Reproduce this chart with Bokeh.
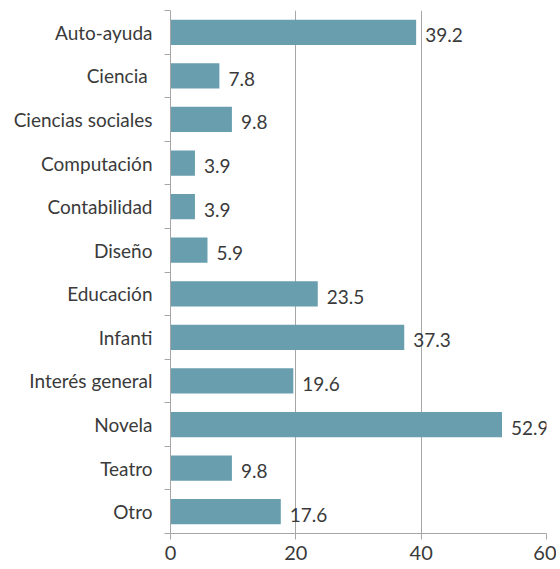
from bokeh.plotting import figure
from bokeh.models import ColumnDataSource, FixedTicker, Range1d
from bokeh.embed import file_html
from bokeh.resources import INLINE
from bokeh.core.properties import value

categories = ["Auto-ayuda", "Ciencia ", "Ciencias sociales", "Computación", "Contabilidad",
              "Diseño", "Educación", "Infanti", "Interés general", "Novela", "Teatro", "Otro"]
values = [39.2, 7.8, 9.8, 3.9, 3.9, 5.9, 23.5, 37.3, 19.6, 52.9, 9.8, 17.6]
x_ticks = [0, 20, 40, 60]

n = len(categories)
ypos = [n - 1 - i for i in range(n)]
labels = [f"{v:.1f}" for v in values]

src = ColumnDataSource(dict(y=ypos, v=values, lab=labels, cat=categories))

FONT = "Lato"
TXT = "#3a3a3a"

p = figure(width=556, height=563, output_backend="svg", toolbar_location=None,
           x_range=Range1d(0, 60), y_range=Range1d(-0.5, n - 0.5),
           min_border_left=170, min_border_right=10, min_border_top=10, min_border_bottom=30)
p.outline_line_color = None
p.background_fill_color = "white"
p.border_fill_color = "white"

p.hbar(y="y", right="v", left=0, height=0.58, source=src,
       fill_color="#689EAE", line_color=None)
p.text(x="v", y="y", text="lab", source=src, x_offset=9, y_offset=3,
       text_font=value(FONT), text_font_size="19px", text_color=TXT,
       text_baseline="middle", text_align="left")

# x axis
p.xaxis.ticker = FixedTicker(ticks=x_ticks)
p.xaxis.axis_line_color = "#A6A6A6"
p.xaxis.major_tick_line_color = "#A6A6A6"
p.xaxis.major_tick_out = 6
p.xaxis.major_tick_in = 0
p.xaxis.minor_tick_line_color = None
p.xaxis.major_label_text_font = FONT
p.xaxis.major_label_text_font_size = "20px"
p.xaxis.major_label_text_color = TXT
p.xaxis.major_label_standoff = 6

# y axis
p.yaxis.ticker = FixedTicker(ticks=ypos, minor_ticks=[i - 0.5 for i in range(n + 1)])
p.yaxis.major_label_overrides = {y: c for y, c in zip(ypos, categories)}
p.yaxis.axis_line_color = "#A6A6A6"
p.yaxis.major_tick_line_color = None
p.yaxis.major_tick_out = 6
p.yaxis.minor_tick_line_color = "#A6A6A6"
p.yaxis.minor_tick_out = 6
p.yaxis.minor_tick_in = 0
p.yaxis.major_label_text_font = FONT
p.yaxis.major_label_text_font_size = "19px"
p.yaxis.major_label_text_color = TXT
p.yaxis.major_label_standoff = 12

p.xgrid.ticker = FixedTicker(ticks=x_ticks[1:])
p.xgrid.grid_line_color = "#A6A6A6"
p.ygrid.grid_line_color = None

open("out.html", "w").write(file_html(p, INLINE))
